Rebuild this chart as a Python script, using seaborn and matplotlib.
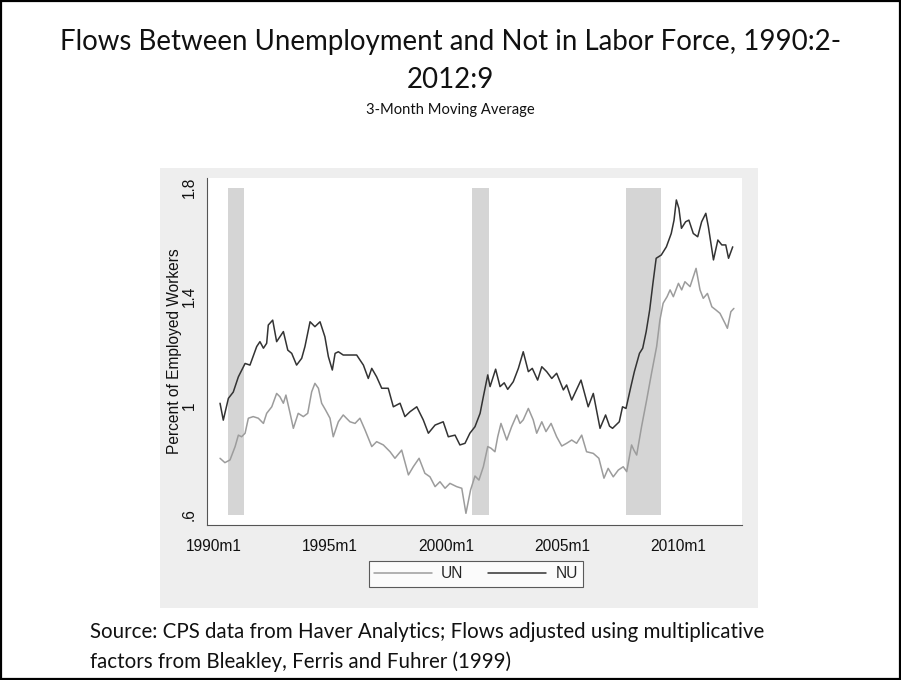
import matplotlib
matplotlib.use("Agg")
import matplotlib.pyplot as plt
import numpy as np
import pandas as pd
import seaborn as sns
from matplotlib.patches import Rectangle
from matplotlib.lines import Line2D

# ---------------- data ----------------
nu_years = [1990.26, 1990.40, 1990.62, 1990.83, 1991.05, 1991.34, 1991.55, 1991.84, 1991.98, 1992.13,
            1992.27, 1992.34, 1992.53, 1992.70, 1992.99, 1993.18, 1993.35, 1993.56, 1993.78, 1993.92,
            1994.14, 1994.35, 1994.57, 1994.78, 1994.93, 1995.10, 1995.22, 1995.36, 1995.57, 1995.72,
            1996.15, 1996.29, 1996.44, 1996.65, 1996.80, 1997.01, 1997.23, 1997.51, 1997.73, 1998.02,
            1998.23, 1998.45, 1998.74, 1999.02, 1999.24, 1999.53, 1999.88, 2000.10, 2000.39, 2000.60,
            2000.82, 2001.03, 2001.25, 2001.47, 2001.61, 2001.80, 2001.90, 2002.14, 2002.33, 2002.51,
            2002.66, 2002.90, 2003.12, 2003.33, 2003.55, 2003.72, 2003.95, 2004.13, 2004.34, 2004.56,
            2004.77, 2005.06, 2005.20, 2005.42, 2005.82, 2006.13, 2006.35, 2006.64, 2006.88, 2007.05,
            2007.18, 2007.47, 2007.61, 2007.76, 2007.97, 2008.12, 2008.34, 2008.48, 2008.63, 2008.78,
            2008.92, 2009.06, 2009.28, 2009.50, 2009.71, 2009.83, 2009.93, 2010.04, 2010.15, 2010.33,
            2010.47, 2010.66, 2010.85, 2011.02, 2011.20, 2011.31, 2011.53, 2011.72, 2011.89, 2012.06,
            2012.18, 2012.36]
nu_values = [1.009, 0.947, 1.027, 1.050, 1.106, 1.155, 1.149, 1.217, 1.235, 1.211,
             1.229, 1.296, 1.314, 1.235, 1.272, 1.204, 1.192, 1.149, 1.174, 1.217,
             1.308, 1.290, 1.308, 1.253, 1.180, 1.131, 1.192, 1.198, 1.186, 1.186,
             1.186, 1.168, 1.149, 1.100, 1.137, 1.106, 1.064, 1.064, 0.996, 1.009,
             0.960, 0.978, 0.996, 0.948, 0.899, 0.929, 0.941, 0.886, 0.892, 0.856,
             0.862, 0.899, 0.923, 0.972, 1.033, 1.113, 1.070, 1.134, 1.070, 1.084,
             1.060, 1.088, 1.137, 1.198, 1.125, 1.137, 1.094, 1.143, 1.125, 1.100,
             1.119, 1.058, 1.076, 1.021, 1.094, 0.996, 1.045, 0.917, 0.966, 0.925,
             0.917, 0.941, 0.996, 0.990, 1.070, 1.125, 1.192, 1.211, 1.272, 1.351,
             1.449, 1.541, 1.553, 1.583, 1.632, 1.681, 1.755, 1.724, 1.651, 1.675,
             1.681, 1.632, 1.620, 1.675, 1.706, 1.657, 1.535, 1.608, 1.590, 1.590,
             1.541, 1.583]

un_years = [1990.26, 1990.47, 1990.69, 1990.91, 1991.05, 1991.19, 1991.34, 1991.48, 1991.69, 1991.91,
            1992.13, 1992.27, 1992.49, 1992.70, 1992.84, 1992.99, 1993.10, 1993.28, 1993.42, 1993.63,
            1993.85, 1994.04, 1994.21, 1994.35, 1994.50, 1994.64, 1994.81, 1995.00, 1995.14, 1995.36,
            1995.57, 1995.86, 1996.08, 1996.29, 1996.51, 1996.80, 1997.01, 1997.30, 1997.59, 1997.80,
            1998.09, 1998.38, 1998.59, 1998.84, 1999.09, 1999.31, 1999.53, 1999.74, 1999.96, 2000.17,
            2000.46, 2000.68, 2000.86, 2001.06, 2001.25, 2001.42, 2001.61, 2001.80, 2001.94, 2002.11,
            2002.23, 2002.37, 2002.62, 2002.83, 2003.05, 2003.19, 2003.33, 2003.55, 2003.76, 2003.91,
            2004.13, 2004.31, 2004.53, 2004.77, 2004.99, 2005.20, 2005.42, 2005.63, 2005.85, 2006.06,
            2006.35, 2006.59, 2006.81, 2006.99, 2007.21, 2007.43, 2007.64, 2007.79, 2008.00, 2008.10,
            2008.22, 2008.43, 2008.65, 2008.86, 2009.08, 2009.22, 2009.36, 2009.53, 2009.66, 2009.80,
            2010.02, 2010.16, 2010.30, 2010.52, 2010.78, 2010.95, 2011.09, 2011.27, 2011.46, 2011.64,
            2011.81, 2012.03, 2012.13, 2012.28, 2012.41]
un_values = [0.807, 0.791, 0.801, 0.850, 0.892, 0.886, 0.899, 0.954, 0.960, 0.954,
             0.935, 0.972, 0.996, 1.045, 1.033, 1.009, 1.039, 0.972, 0.917, 0.972,
             0.960, 0.972, 1.051, 1.082, 1.064, 1.009, 0.984, 0.954, 0.886, 0.941,
             0.966, 0.941, 0.935, 0.954, 0.911, 0.850, 0.868, 0.856, 0.831, 0.807,
             0.837, 0.746, 0.776, 0.807, 0.752, 0.739, 0.703, 0.721, 0.697, 0.715,
             0.703, 0.697, 0.605, 0.691, 0.742, 0.727, 0.776, 0.850, 0.844, 0.831,
             0.886, 0.935, 0.874, 0.923, 0.966, 0.935, 0.948, 0.990, 0.948, 0.899,
             0.941, 0.905, 0.935, 0.886, 0.852, 0.862, 0.874, 0.862, 0.892, 0.831,
             0.825, 0.807, 0.734, 0.770, 0.739, 0.764, 0.776, 0.758, 0.856, 0.837,
             0.819, 0.923, 1.021, 1.119, 1.217, 1.314, 1.376, 1.400, 1.425, 1.400,
             1.449, 1.425, 1.455, 1.437, 1.504, 1.425, 1.394, 1.412, 1.363, 1.351,
             1.339, 1.302, 1.284, 1.345, 1.357]

recession_start = [1990.59, 2001.12, 2007.75]
recession_end = [1991.29, 2001.85, 2009.27]

series_names = ["UN", "NU"]
x_tick_values = [1990, 1995, 2000, 2005, 2010]
x_tick_labels = ["1990m1", "1995m1", "2000m1", "2005m1", "2010m1"]
y_tick_values = [0.6, 1.0, 1.4, 1.8]
y_tick_labels = [".6", "1", "1.4", "1.8"]

title_line1 = "Flows Between Unemployment and Not in Labor Force, 1990:2-"
title_line2 = "2012:9"
subtitle = "3-Month Moving Average"
y_label = "Percent of Employed Workers"
source_line1 = "Source: CPS data from Haver Analytics; Flows adjusted using multiplicative"
source_line2 = "factors from Bleakley, Ferris and Fuhrer (1999)"

# ---------------- styling ----------------
sns.set_style("white")
plt.rcParams['font.family'] = ['Liberation Sans', 'DejaVu Sans']

W, H = 901, 680
fig = plt.figure(figsize=(W / 100, H / 100), dpi=100)
fig.patch.set_facecolor('white')

def fx(px):
    return px / W

def fy(py):
    return 1 - py / H

# light gray graph region behind the plot
fig.patches.append(Rectangle((fx(160), fy(608)), fx(758) - fx(160), fy(168) - fy(608),
                             transform=fig.transFigure, facecolor='#eeeeee',
                             edgecolor='none', zorder=-5))
# slide border
fig.patches.append(Rectangle((0.0015, 0.002), 0.997, 0.996, transform=fig.transFigure,
                             fill=False, edgecolor='black', linewidth=1.6, zorder=10))

ax = fig.add_axes([fx(206.7), fy(525), fx(742) - fx(206.7), fy(178) - fy(525)])
ax.set_zorder(1)
ax.set_facecolor('white')

for s, e in zip(recession_start, recession_end):
    ax.fill_between([s, e], 0.6, 1.8, color='#d5d5d5', linewidth=0, zorder=1)

df = pd.concat([
    pd.DataFrame({"year": un_years, "value": un_values, "series": series_names[0]}),
    pd.DataFrame({"year": nu_years, "value": nu_values, "series": series_names[1]}),
])
palette = {"UN": "#9c9c9c", "NU": "#333333"}
sns.lineplot(data=df, x="year", y="value", hue="series", palette=palette,
             estimator=None, sort=True, linewidth=1.1, legend=False, ax=ax, zorder=3)

ax.set_xlim(1989.685, 2012.76)
ax.set_ylim(0.5622, 1.8356)

for sp in ['top', 'right']:
    ax.spines[sp].set_visible(False)
for sp in ['left', 'bottom']:
    ax.spines[sp].set_color('#555555')
    ax.spines[sp].set_linewidth(0.8)

ax.set_xticks(x_tick_values)
ax.set_xticklabels(x_tick_labels)
ax.set_yticks(y_tick_values)
ax.set_yticklabels(y_tick_labels, rotation=90, va='center')
ax.tick_params(axis='both', direction='out', length=4, width=0.8, color='#555555',
               labelsize=11.2, labelcolor='#111111', pad=3)
ax.tick_params(axis='x', pad=6)

ax.set_xlabel("")
ax.set_ylabel(y_label, fontsize=11.2, color='#111111')
ax.yaxis.set_label_coords((182 - 206.7) / (742 - 206.7), 0.5)

handles = [Line2D([], [], color=palette["UN"], lw=1.1),
           Line2D([], [], color=palette["NU"], lw=1.1)]
leg = fig.legend(handles, series_names, ncol=2, loc='center',
                 bbox_to_anchor=(fx(476), fy(574)), frameon=True, fancybox=False,
                 fontsize=11.2, handlelength=3.7, handletextpad=0.6, columnspacing=1.6,
                 borderpad=0.35, borderaxespad=0)
leg.get_frame().set_edgecolor('#333333')
leg.get_frame().set_linewidth(0.8)
leg.get_frame().set_facecolor('white')
leg.set_zorder(5)

tfont = ['Lato', 'DejaVu Sans']
fig.text(0.5, fy(42), title_line1, ha='center', va='center', fontsize=19.9, family=tfont, color='#111111')
fig.text(0.5, fy(80), title_line2, ha='center', va='center', fontsize=19.9, family=tfont, color='#111111')
fig.text(0.5, fy(110), subtitle, ha='center', va='center', fontsize=10.6, family=tfont, color='#111111')
fig.text(fx(90), fy(632), source_line1, ha='left', va='center', fontsize=14.8, family=tfont, color='#111111')
fig.text(fx(90), fy(662), source_line2, ha='left', va='center', fontsize=14.8, family=tfont, color='#111111')

fig.savefig("out.png", dpi=100, facecolor='white')
